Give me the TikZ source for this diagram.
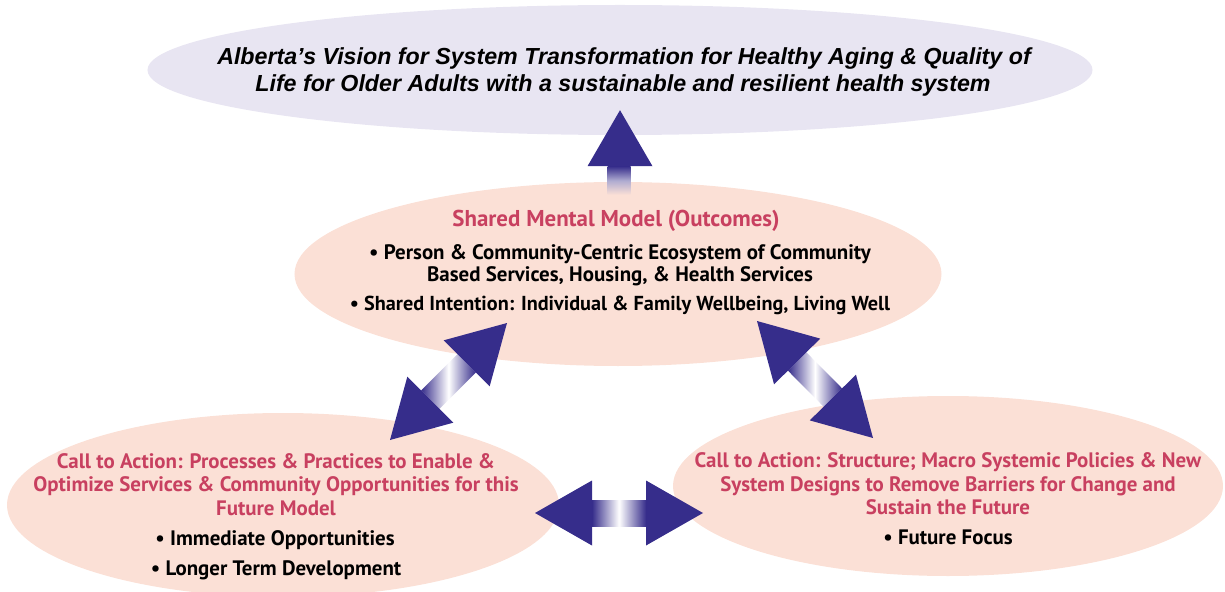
\documentclass[tikz,border=0pt]{standalone}
\usepackage{fontspec}
\setmainfont{PT Sans}
\newfontfamily\visionfont{Liberation Sans}
\usetikzlibrary{shapes.geometric,calc}

\definecolor{arrowblue}{RGB}{54,45,139}
\definecolor{lavender}{RGB}{232,229,242}
\definecolor{peach}{RGB}{251,224,214}
\definecolor{rose}{RGB}{200,64,96}

% double-headed block arrow between two tips, shaft shaded dark-light-dark
\newcommand{\twoheaded}[3]{%
  \shade[shading angle=#3, left color=arrowblue, right color=arrowblue, middle color=white]
    ($(#1)!57bp!(#2)!13bp!90:(#2)$) -- ($(#1)!57bp!(#2)!13bp!-90:(#2)$) --
    ($(#2)!57bp!(#1)!13bp!90:(#1)$) -- ($(#2)!57bp!(#1)!13bp!-90:(#1)$) -- cycle;
  \fill[arrowblue] (#1) -- ($(#1)!57bp!(#2)!32.5bp!90:(#2)$) -- ($(#1)!57bp!(#2)!32.5bp!-90:(#2)$) -- cycle;
  \fill[arrowblue] (#2) -- ($(#2)!57bp!(#1)!32.5bp!90:(#1)$) -- ($(#2)!57bp!(#1)!32.5bp!-90:(#1)$) -- cycle;
}

\begin{document}
\begin{tikzpicture}[x=1bp, y=-1bp,
  oval/.style={ellipse, draw=none, inner sep=0pt},
  vision/.style={font=\visionfont\bfseries\itshape\fontsize{23.3}{28}\selectfont, anchor=base, inner sep=0pt},
  head/.style={font=\bfseries\fontsize{21}{25}\selectfont, text=rose, anchor=base, inner sep=0pt},
  bighead/.style={head, font=\bfseries\fontsize{23}{27}\selectfont},
  item/.style={font=\bfseries\fontsize{21}{25}\selectfont, anchor=base, inner sep=0pt}]
\useasboundingbox (0,0) rectangle (1225,592);

% ellipses
\node[oval, fill=lavender, minimum width=945bp, minimum height=130bp] (vis) at (620,70) {};
\node[oval, fill=peach, minimum width=647bp, minimum height=184bp] (mid) at (618,274) {};
\node[oval, fill=peach, minimum width=552bp, minimum height=184bp] (left) at (283,505) {};
\node[oval, fill=peach, minimum width=550bp, minimum height=180bp] (right) at (948,486) {};

% upward arrow from the shared model to the vision
\coordinate (upTip) at ($(vis.south)+(0,-25)$);
\coordinate (upTail) at ($(mid.north)+(0,13)$);
\shade[top color=arrowblue, bottom color=peach, middle color=arrowblue!40!white]
  ($(upTip)+(-12.5,56)$) rectangle ($(upTail)+(12.5,0)$);
\fill[arrowblue] (upTip) -- ($(upTip)+(32.5,56)$) -- ($(upTip)+(-32.5,56)$) -- cycle;

% two-way arrows between the three ovals
\coordinate (lA) at (390,440);
\coordinate (lB) at (507,323);
\coordinate (rA) at (757,321);
\coordinate (rB) at (873,438);
\coordinate (hA) at (535,513);
\coordinate (hB) at (703,513);
\twoheaded{lA}{lB}{45}
\twoheaded{rA}{rB}{-45}
\twoheaded{hA}{hB}{0}

% vision text
\node[vision] (v1) at (624,65) {Alberta’s Vision for System Transformation for Healthy Aging \& Quality of};
\node[vision] (v2) at (623,91.7) {Life for Older Adults with a sustainable and resilient health system};

% shared mental model
\node[bighead] (m0) at (616,226.7) {Shared Mental Model (Outcomes)};
\node[item] (m1) at (620,259.3) {• Person \& Community-Centric Ecosystem of Community};
\node[item] (m2) at (620,281.7) {Based Services, Housing, \& Health Services};
\node[item, font=\bfseries\fontsize{20.3}{25}\selectfont] (m3) at (620,311) {• Shared Intention: Individual \& Family Wellbeing, Living Well};

% processes and practices
\node[head] (p1) at (276,468.3) {Call to Action: Processes \& Practices to Enable \&};
\node[head] (p2) at (276,491.7) {Optimize Services \& Community Opportunities for this};
\node[head] (p3) at (276,515) {Future Model};
\node[item] (p4) at (275,545) {• Immediate Opportunities};
\node[item] (p5) at (276,575) {• Longer Term Development};

% structure and policies
\node[head] (s1) at (948,467.3) {Call to Action: Structure; Macro Systemic Policies \& New};
\node[head] (s2) at (948,491.7) {System Designs to Remove Barriers for Change and};
\node[head] (s3) at (948,514) {Sustain the Future};
\node[item] (s4) at (948,544) {• Future Focus};
\end{tikzpicture}
\end{document}
